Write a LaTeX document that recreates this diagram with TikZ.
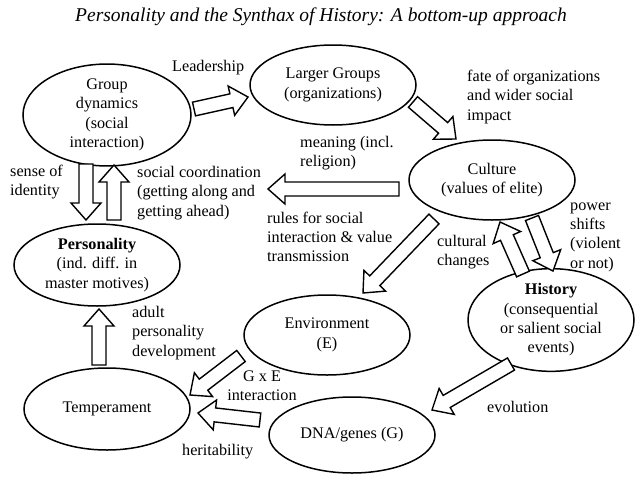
\documentclass[tikz,border=0pt]{standalone}
\usepackage{fontspec}
\setmainfont{Liberation Serif}
\usetikzlibrary{shapes.geometric, positioning, calc}

% hollow block arrow from #1 (tail) to #2 (tip)
\newcommand\fatarrow[2]{%
  \coordinate (fa-h) at ($(#2)!17pt!(#1)$);
  \draw[fat] ($(#1)!7pt!90:(#2)$) -- ($(fa-h)!7pt!90:(#2)$) -- ($(fa-h)!15pt!90:(#2)$)
    -- (#2) -- ($(fa-h)!15pt!-90:(#2)$) -- ($(fa-h)!7pt!-90:(#2)$) -- ($(#1)!7pt!-90:(#2)$) -- cycle;}

\begin{document}
\begin{tikzpicture}[x=1pt, y=-1pt, on grid,
    every node/.style={font=\fontsize{16.2}{19.3}\selectfont},
    blob/.style={ellipse, draw, line width=1.5pt, inner sep=0pt, minimum width=166pt, minimum height=80pt, align=center},
    note/.style={inner sep=0pt, anchor=west, align=left},
    fat/.style={draw, line width=1.4pt, fill=white, line join=miter}]
  \useasboundingbox (0,0) rectangle (639,479);
  \node[font=\itshape\fontsize{19.5}{22}\selectfont] (title) at (321,17) {Personality and the Synthax of History: A bottom-up approach};

  \node[blob, minimum height=82pt] (pers) at (97,265) {\textbf{Personality}\\(ind. diff. in\\master motives)};
  \node[blob, minimum width=168pt, minimum height=90pt] (gd) [above right=150pt and 10pt of pers] {Group\\dynamics\\(social\\interaction)};
  \node[blob, minimum height=82pt] (temp) [below right=144pt and 10pt of pers] {Temperament};
  \node[blob] (lg) at (333,85) {Larger Groups\\(organizations)};
  \node[blob] (cult) [below right=95pt and 159pt of lg] {Culture\\(values of elite)};
  \node[blob] (hist) [below right=140pt and 59pt of cult] {\textbf{History}\\(consequential\\or salient social\\events)};
  \node[blob] (env) at (327,335) {Environment\\(E)};
  \node[blob, minimum height=76pt] (dna) [below right=100pt and 25pt of env] {DNA/genes (G)};

  \coordinate (lead-a) at (194,109);  \coordinate (lead-b) at (248,97);
  \coordinate (fate-a) at (413,102);  \coordinate (fate-b) at (456,139);
  \coordinate (rule-a) at (399,189);  \coordinate (rule-b) at (268,189);
  \coordinate (envi-a) at (434,219);  \coordinate (envi-b) at (363,293);
  \coordinate (chg-a) at (523,274);   \coordinate (chg-b) at (500,222);
  \coordinate (pow-a) at (532,218);   \coordinate (pow-b) at (553,271);
  \coordinate (evo-a) at (511,364);   \coordinate (evo-b) at (432,410);
  \coordinate (gxe-a) at (241,356);   \coordinate (gxe-b) at (190,395);
  \coordinate (her-a) at (260,420);   \coordinate (her-b) at (198,413);
  \coordinate (dev-a) at (99,365);    \coordinate (dev-b) at (99,309);
  \coordinate (id-a) at (86,164);     \coordinate (id-b) at (86,220);
  \coordinate (soc-a) at (114,220);   \coordinate (soc-b) at (114,165);
  \foreach \a in {lead, fate, rule, envi, chg, pow, evo, gxe, her, dev, id, soc}
    {\fatarrow{\a-a}{\a-b}}

  \node[note] (lead) at (172,68) {Leadership};
  \node[note] (fate) at (467,97) {fate of organizations\\and wider social\\impact};
  \node[note] (mean) at (300,153) {meaning (incl.\\religion)};
  \node[note] (coord) at (137,193) {social coordination\\(getting along and\\getting ahead)};
  \node[note] (ident) at (10,182) {sense of\\identity};
  \node[note] (rules) at (267,237) {rules for social\\interaction \& value\\transmission};
  \node[note] (power) at (570,237) {power\\shifts\\(violent\\or not)};
  \node[note] (chang) at (437,252) {cultural\\changes};
  \node[note] (adult) at (132,333) {adult\\personality\\development};
  \node[inner sep=0pt, align=center] (gxe) at (262,386) {G x E\\interaction};
  \node[note] (herit) at (182,452) {heritability};
  \node[note] (evol) at (487,407) {evolution};
\end{tikzpicture}
\end{document}
